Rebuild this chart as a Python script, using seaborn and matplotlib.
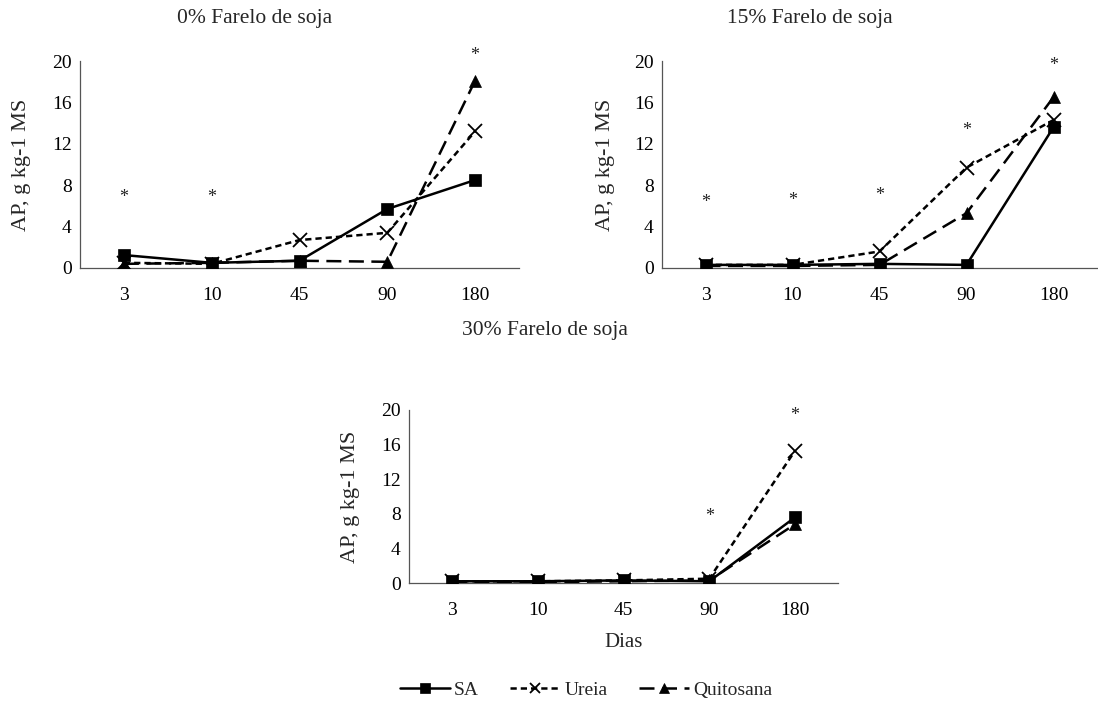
import numpy as np
import pandas as pd
import matplotlib
matplotlib.use("Agg")
import matplotlib.pyplot as plt
import seaborn as sns
from matplotlib.lines import Line2D

sns.set_theme(style="white")
plt.rcParams['font.family'] = ['Liberation Serif', 'DejaVu Serif']

dias = ["3", "10", "45", "90", "180"]
tratamentos = ["SA", "Ureia", "Quitosana"]

# 0% Farelo de soja
sa_0 = [1.25, 0.5, 0.7, 5.7, 8.5]
ureia_0 = [0.5, 0.4, 2.7, 3.4, 13.2]
quit_0 = [0.4, 0.5, 0.7, 0.6, 18.1]
ast_0_x = ["3", "10", "180"]
ast_0_y = [6.8, 6.8, 20.5]

# 15% Farelo de soja
sa_15 = [0.3, 0.3, 0.4, 0.3, 13.6]
ureia_15 = [0.3, 0.3, 1.6, 9.7, 14.3]
quit_15 = [0.2, 0.2, 0.3, 5.3, 16.5]
ast_15_x = ["3", "10", "45", "90", "180"]
ast_15_y = [6.3, 6.5, 7.0, 13.3, 19.6]

# 30% Farelo de soja
sa_30 = [0.2, 0.2, 0.3, 0.2, 7.6]
ureia_30 = [0.2, 0.2, 0.3, 0.5, 15.3]
quit_30 = [0.1, 0.1, 0.2, 0.3, 6.8]
ast_30_x = ["90", "180"]
ast_30_y = [7.7, 19.4]

titulos = ["0% Farelo de soja", "15% Farelo de soja", "30% Farelo de soja"]
ylab = "AP, g kg-1 MS"

paineis = [
    (titulos[0], [sa_0, ureia_0, quit_0], ast_0_x, ast_0_y),
    (titulos[1], [sa_15, ureia_15, quit_15], ast_15_x, ast_15_y),
    (titulos[2], [sa_30, ureia_30, quit_30], ast_30_x, ast_30_y),
]

markers = {"SA": "s", "Ureia": "x", "Quitosana": "^"}
msize = {"SA": 8, "Ureia": 10, "Quitosana": 8}
dashes = {"SA": "", "Ureia": (2.5, 1.6), "Quitosana": (6, 3)}

W, H = 1098, 707
fig = plt.figure(figsize=(W / 100, H / 100), dpi=100)

# axes boxes in pixels: left, top, right, bottom
boxes = [(80, 61, 519, 268), (662, 61, 1097, 268), (409, 410, 838, 583)]
title_pos = [(255, 18), (810, 18), (545, 330)]
ylab_x = [22, 606, 350]

for i, ((tit, series, ax_x, ax_y), box) in enumerate(zip(paineis, boxes)):
    l, t, r, b = box
    ax = fig.add_axes([l / W, 1 - b / H, (r - l) / W, (b - t) / H])
    rows = []
    for trat, vals in zip(tratamentos, series):
        for k, (d, v) in enumerate(zip(dias, vals)):
            rows.append({"pos": k, "Dias": d, "AP": v, "Trat": trat})
    df = pd.DataFrame(rows)
    for trat in tratamentos:
        sub = df[df["Trat"] == trat]
        sns.lineplot(data=sub, x="pos", y="AP", ax=ax, color="black",
                     marker=markers[trat], markersize=msize[trat],
                     markeredgewidth=1.3 if trat == "Ureia" else 0.5,
                     markeredgecolor="black",
                     linewidth=1.8, legend=False, zorder=3)
    for line, trat in zip(ax.get_lines(), tratamentos):
        if dashes[trat]:
            line.set_dashes(dashes[trat])
        else:
            line.set_linestyle("-")
    for xs, ys in zip(ax_x, ax_y):
        ax.text(dias.index(xs), ys, "*", ha="center", va="center",
                fontsize=13, color="#222222")
    ax.set_xlim(-0.5, len(dias) - 0.5)
    ax.set_ylim(0, 20)
    ax.set_xticks(range(len(dias)))
    ax.set_xticklabels(dias)
    ax.set_yticks(np.arange(0, 21, 4))
    ax.tick_params(axis="both", length=0, labelsize=14, colors="black", pad=6)
    ax.tick_params(axis="x", pad=14)
    for s in ["top", "right"]:
        ax.spines[s].set_visible(False)
    for s in ["left", "bottom"]:
        ax.spines[s].set_color("#555555")
        ax.spines[s].set_linewidth(0.9)
    ax.set_xlabel("Dias" if i == 2 else "", fontsize=15, labelpad=10)
    ax.set_ylabel("")
    ax.patch.set_alpha(0)
    tx, ty = title_pos[i]
    fig.text(tx / W, 1 - ty / H, tit, ha="center", va="center", fontsize=15.5)
    fig.text(ylab_x[i] / W, 1 - ((t + b) / 2) / H, ylab, rotation=90,
             ha="center", va="center", fontsize=16)

handles = []
for trat in tratamentos:
    h = Line2D([], [], color="black", marker=markers[trat], markersize=7,
               markeredgewidth=1.3 if trat == "Ureia" else 0.5, linewidth=1.8)
    if dashes[trat]:
        h.set_dashes(dashes[trat])
    handles.append(h)
fig.legend(handles, tratamentos, loc="center", bbox_to_anchor=(586 / W, 1 - 690 / H),
           ncol=3, frameon=False, fontsize=14, handlelength=2.6,
           columnspacing=1.6, handletextpad=0.2)

fig.savefig("out.png", dpi=100)
